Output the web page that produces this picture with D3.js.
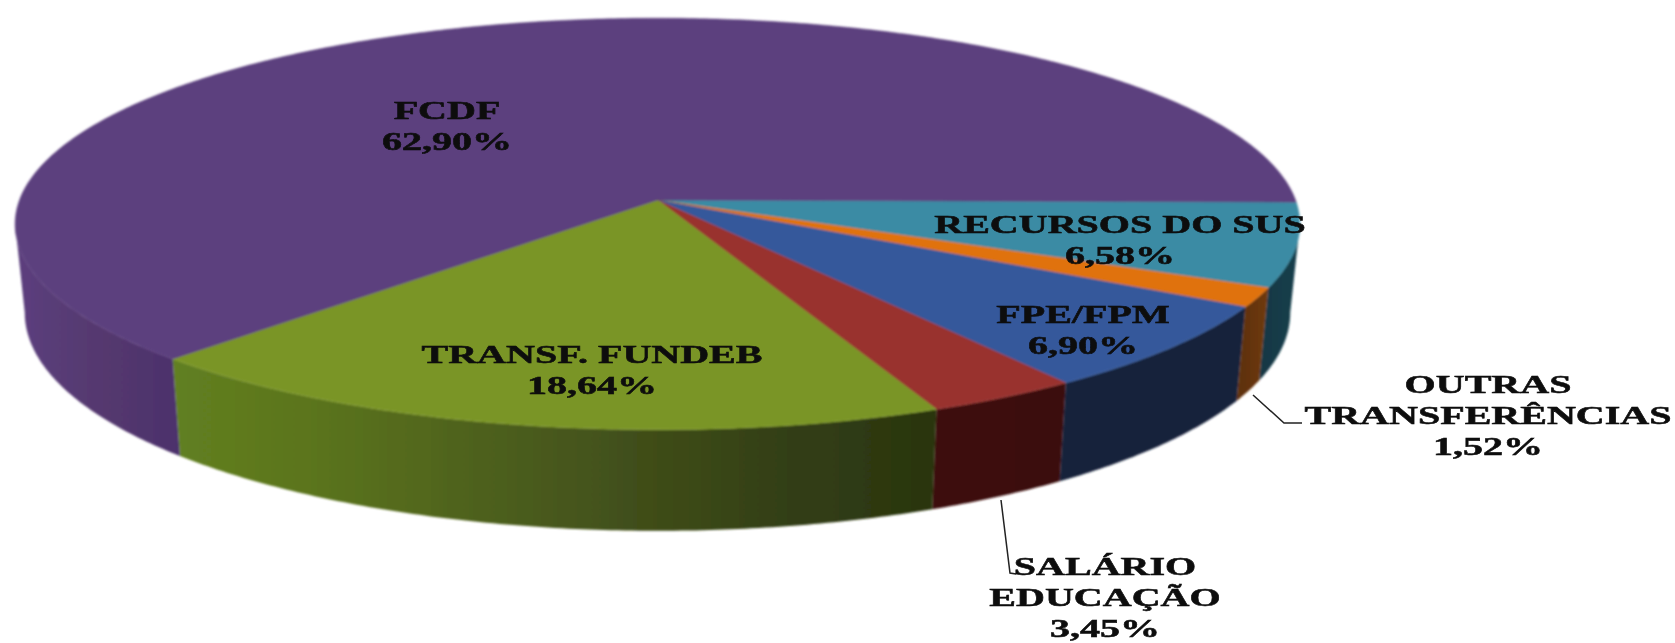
<!DOCTYPE html>
<html>
<head>
<meta charset="utf-8">
<script src="https://cdn.jsdelivr.net/npm/d3@7"></script>
<style>
  html, body { margin: 0; padding: 0; background: #fff; }
  text { font-family: "Liberation Serif", serif; font-weight: bold; fill: #0a0a0a; stroke: #0a0a0a; stroke-width: 0.5px; }
</style>
</head>
<body>
<div id="chart"></div>
<script>
// Data, clockwise from the 3 o'clock position
const categories = ["RECURSOS DO SUS", "OUTRAS TRANSFERÊNCIAS", "FPE/FPM", "SALÁRIO EDUCAÇÃO", "TRANSF. FUNDEB", "FCDF"];
const shares = [6.58, 1.52, 6.90, 3.45, 18.64, 62.90];
const shareLabels = ["6,58%", "1,52%", "6,90%", "3,45%", "18,64%", "62,90%"];

// Styles
const topColors = ["#3a8ba4", "#e0720f", "#34589b", "#99312f", "#7a9526", "#5c3f7e"];
const wallStops = [
  ["#143f4c", "#123744"],
  ["#6f3a0a", "#5c2f08"],
  ["#17233a", "#16233a"],
  ["#3b0f0e", "#3d100f"],
  ["#2a3510", "#333f14", "#414f1a", "#4e611d", "#5a731f", "#628020"],
  ["#4c316c", "#55396f", "#5c3f7e"]
];

// Label lines and where they sit (x center, first baseline)
const labelLines = [
  ["RECURSOS DO SUS"],
  ["OUTRAS", "TRANSFERÊNCIAS"],
  ["FPE/FPM"],
  ["SALÁRIO", "EDUCAÇÃO"],
  ["TRANSF. FUNDEB"],
  ["FCDF"]
];
const labelAnchor = [[1120, 233], [1488, 393], [1083, 323], [1105, 575], [592, 363], [447, 119]];
const leaders = {
  1: [[1253, 395], [1284, 423], [1302, 423]],
  3: [[1001, 500], [1010, 573], [1016, 574]]
};

const width = 1675, height = 643;
const cx = 657.5, cy = 200;
const rx = 638, ry = 203, persp = -0.1165;
const startDeg = 90.6;
const wallDepth = 87, wallGrow = 14, wallShrink = 0.985;
const lineStep = 31, stretch = 1.54;

const svg = d3.select("#chart").append("svg")
    .attr("width", width)
    .attr("height", height);

const defs = svg.append("defs");
defs.append("filter").attr("id", "soft")
    .attr("x", "-5%").attr("y", "-5%").attr("width", "110%").attr("height", "110%")
  .append("feGaussianBlur").attr("stdDeviation", 0.9);
defs.append("filter").attr("id", "softText")
    .attr("x", "-10%").attr("y", "-30%").attr("width", "120%").attr("height", "160%")
  .append("feGaussianBlur").attr("stdDeviation", 0.7);

const pie = d3.pie()
    .sort(null)
    .startAngle(startDeg * Math.PI / 180)
    .endAngle((startDeg + 360) * Math.PI / 180);
const arcs = pie(shares);

// Disc point -> screen, with a little perspective (near side is larger)
function topPoint(a) {
  const u = Math.sin(a), v = -Math.cos(a);
  const w = 1 + persp * v;
  return [cx + rx * u / w, cy + ry * v / w];
}
function bottomPoint(a) {
  const p = topPoint(a), v = -Math.cos(a);
  return [cx + (p[0] - cx) * wallShrink, p[1] + wallDepth + wallGrow * v];
}
function sample(a0, a1) {
  const n = Math.max(2, Math.ceil(Math.abs(a1 - a0) / 0.01));
  return d3.range(n + 1).map(i => a0 + (a1 - a0) * i / n);
}

const line = d3.line();
const chart = svg.append("g").attr("filter", "url(#soft)");

// Walls: rim between the two widest points of the ellipse
const tilt = Math.asin(-persp);
const wallMin = Math.PI / 2 + tilt, wallMax = 3 * Math.PI / 2 - tilt;
arcs.forEach((d, i) => {
  const a0 = Math.max(d.startAngle, wallMin), a1 = Math.min(d.endAngle, wallMax);
  if (a1 <= a0) return;
  const angles = sample(a0, a1);
  const pts = angles.map(topPoint).concat(angles.slice().reverse().map(bottomPoint));
  const xs = d3.extent(pts, p => p[0]);
  // gradient runs right to left, following the slice direction
  const grad = defs.append("linearGradient")
      .attr("id", "wall" + i)
      .attr("gradientUnits", "userSpaceOnUse")
      .attr("x1", xs[1]).attr("x2", xs[0])
      .attr("y1", 0).attr("y2", 0);
  wallStops[i].forEach((c, j) => {
    grad.append("stop")
        .attr("offset", j / (wallStops[i].length - 1))
        .attr("stop-color", c);
  });
  chart.append("path")
      .attr("d", line(pts) + "Z")
      .attr("fill", `url(#wall${i})`);
});

// Top face
chart.selectAll(".slice")
  .data(arcs)
  .join("path")
    .attr("class", "slice")
    .attr("fill", (d, i) => topColors[i])
    .attr("stroke", (d, i) => topColors[i])
    .attr("stroke-width", 0.5)
    .attr("d", d => line([[cx, cy]].concat(sample(d.startAngle, d.endAngle).map(topPoint))) + "Z");

// Leader lines
Object.keys(leaders).forEach(k => {
  svg.append("path")
      .attr("d", line(leaders[k]))
      .attr("fill", "none")
      .attr("stroke", "#222")
      .attr("stroke-width", 1.5);
});

// Labels
const labels = svg.append("g").attr("filter", "url(#softText)");
categories.forEach((c, i) => {
  const g = labels.append("g")
      .attr("transform", `translate(${labelAnchor[i][0]},${labelAnchor[i][1]}) scale(${stretch},1)`);
  labelLines[i].concat([shareLabels[i]]).forEach((t, j) => {
    g.append("text")
        .attr("y", j * lineStep)
        .attr("text-anchor", "middle")
        .attr("font-size", 26)
        .text(t);
  });
});
</script>
</body>
</html>
